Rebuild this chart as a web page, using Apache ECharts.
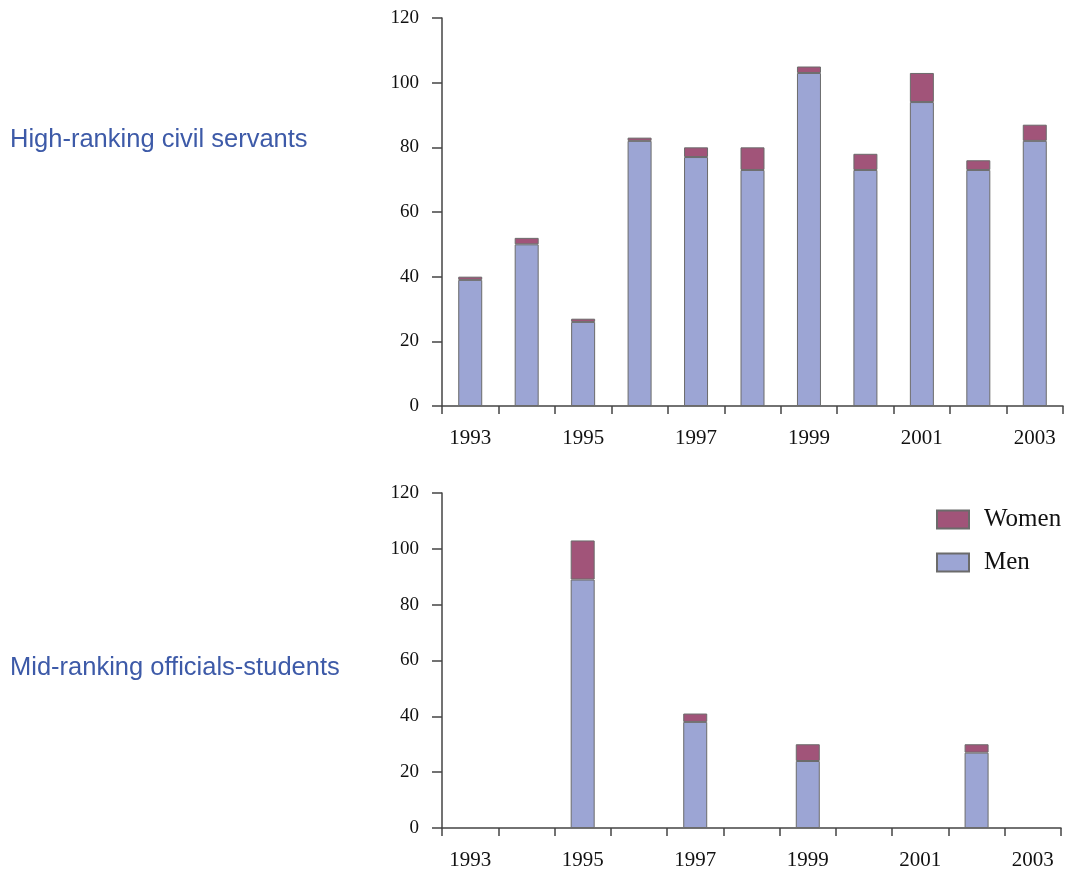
<!DOCTYPE html>
<html>
<head>
<meta charset="utf-8">
<script src="https://cdn.jsdelivr.net/npm/echarts@6/dist/echarts.min.js"></script>
<style>
  html, body { margin: 0; padding: 0; background: #fff; }
  #chart { width: 1076px; height: 873px; }
</style>
</head>
<body>
<div id="chart"></div>
<script>
const years = ['1993', '1994', '1995', '1996', '1997', '1998', '1999', '2000', '2001', '2002', '2003'];

// High-ranking civil servants
const highMen = [39, 50, 26, 82, 77, 73, 103, 73, 94, 73, 82];
const highWomen = [1, 2, 1, 1, 3, 7, 2, 5, 9, 3, 5];

// Mid-ranking officials-students (null = no intake that year)
const midMen = [null, null, 89, null, 38, null, 24, null, null, 27, null];
const midWomen = [null, null, 14, null, 3, null, 6, null, null, 3, null];

const yTicks = [0, 20, 40, 60, 80, 100, 120];

const MEN_COLOR = '#9ca5d4';
const WOMEN_COLOR = '#a15479';
const AXIS_COLOR = '#444';
const serif = '"Liberation Serif", "Times New Roman", serif';
const sans = '"Liberation Sans", Arial, sans-serif';

const chart = echarts.init(document.getElementById('chart'));

const xAxisBase = (gridIndex) => ({
  type: 'category',
  gridIndex: gridIndex,
  data: years,
  boundaryGap: true,
  axisLine: { lineStyle: { color: AXIS_COLOR, width: 1.5 } },
  axisTick: { show: true, interval: 0, length: 8, lineStyle: { color: AXIS_COLOR, width: 1.5 } },
  axisLabel: { interval: 1, margin: 22, color: '#111', fontFamily: serif, fontSize: 21 },
  splitLine: { show: false }
});

const yAxisBase = (gridIndex) => ({
  type: 'value',
  gridIndex: gridIndex,
  min: yTicks[0],
  max: yTicks[yTicks.length - 1],
  interval: 20,
  axisLine: { show: true, lineStyle: { color: AXIS_COLOR, width: 1.5 } },
  axisTick: { show: true, length: 10, lineStyle: { color: AXIS_COLOR, width: 1.5 } },
  axisLabel: { margin: 23, color: '#111', fontFamily: serif, fontSize: 19 },
  splitLine: { show: false }
});

const barStyle = (color) => ({ color: color, borderColor: '#6b6b6b', borderWidth: 1 });

const titleStyle = { color: '#3d5aa8', fontFamily: sans, fontSize: 25.5, fontWeight: 'normal' };

const option = {
  animation: false,
  backgroundColor: '#fff',
  title: [
    { text: 'High-ranking civil servants', left: 10, top: 127, padding: 0, textStyle: titleStyle },
    { text: 'Mid-ranking officials-students', left: 10, top: 655, padding: 0, textStyle: titleStyle }
  ],
  legend: {
    data: ['Women', 'Men'],
    orient: 'vertical',
    left: 936, top: 507,
    padding: 0,
    itemWidth: 32, itemHeight: 18,
    itemGap: 18,
    icon: 'rect',
    textStyle: { fontFamily: serif, fontSize: 25, color: '#111', lineHeight: 18, padding: [0, 0, 0, 10] }
  },
  grid: [
    { left: 442, right: 13, top: 18, bottom: 467, containLabel: false },
    { left: 442, right: 15, top: 493, bottom: 45, containLabel: false }
  ],
  xAxis: [xAxisBase(0), xAxisBase(1)],
  yAxis: [yAxisBase(0), yAxisBase(1)],
  series: [
    { name: 'Men', type: 'bar', stack: 'high', xAxisIndex: 0, yAxisIndex: 0, barWidth: 24, data: highMen, itemStyle: barStyle(MEN_COLOR) },
    { name: 'Women', type: 'bar', stack: 'high', xAxisIndex: 0, yAxisIndex: 0, barWidth: 24, data: highWomen, itemStyle: barStyle(WOMEN_COLOR) },
    { name: 'Men', type: 'bar', stack: 'mid', xAxisIndex: 1, yAxisIndex: 1, barWidth: 24, data: midMen, itemStyle: barStyle(MEN_COLOR) },
    { name: 'Women', type: 'bar', stack: 'mid', xAxisIndex: 1, yAxisIndex: 1, barWidth: 24, data: midWomen, itemStyle: barStyle(WOMEN_COLOR) }
  ]
};

chart.setOption(option);
</script>
</body>
</html>
